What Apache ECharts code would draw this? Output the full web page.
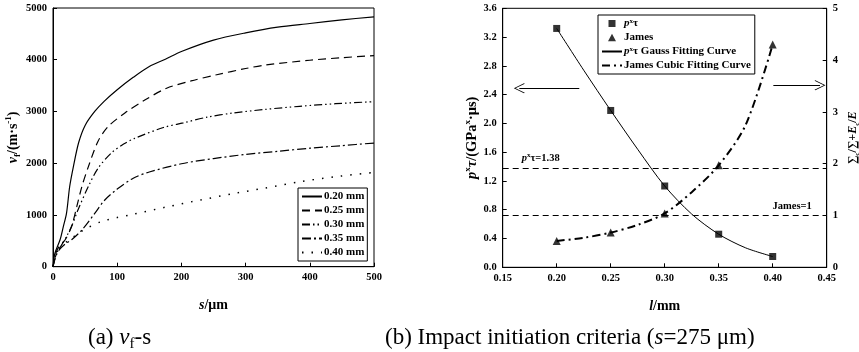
<!DOCTYPE html>
<html><head><meta charset="utf-8">
<script src="https://cdn.jsdelivr.net/npm/echarts@6/dist/echarts.min.js"></script>
<style>html,body{margin:0;padding:0;background:#fff}#c{width:859px;height:352px}</style>
</head><body><div id="c"></div>
<script>
// ---------- (a) vf - s ----------
const s020 = [0,3,11,16,21,26,32,40,50,65,80,100,125,150,175,200,250,300,350,400,450,500];
const v020 = [0,260,520,770,1030,1550,1950,2400,2730,3000,3200,3420,3660,3870,4010,4160,4380,4520,4630,4700,4770,4830];
const s025 = [0,5,10,19,29,37,45,55,70,86,112,143,177,215,255,300,332,400,450,500];
const v025 = [0,280,400,520,780,1160,1550,1930,2420,2710,2970,3220,3450,3590,3710,3830,3900,3990,4040,4080];
const s030 = [0,5,10,20,29,39,55,70,91,110,127,172,203,240,280,330,384,440,500];
const v030 = [0,250,350,560,780,1100,1550,1900,2200,2370,2480,2690,2780,2890,2970,3040,3100,3150,3190];
const s035 = [0,5,10,20,29,45,65,80,100,125,150,200,250,300,350,400,450,500];
const v035 = [0,220,330,450,520,710,1030,1280,1500,1710,1830,1990,2090,2170,2230,2290,2340,2390];
const s040 = [0,5,10,20,30,40,55,75,100,120,175,230,280,330,384,440,500];
const v040 = [0,250,350,470,560,650,760,870,950,1000,1150,1290,1410,1520,1640,1740,1820];
const curveNames = ['0.20 mm','0.25 mm','0.30 mm','0.35 mm','0.40 mm'];
const xTicksA = [0,100,200,300,400,500];
const yTicksA = [0,1000,2000,3000,4000,5000];

// ---------- (b) impact initiation criteria ----------
const lVals = [0.20,0.25,0.30,0.35,0.40];
const pTau = [3.32,2.18,1.13,0.46,0.15];
const james = [0.51,0.67,1.04,1.97,4.30];
const fitL = [0.20,0.225,0.25,0.275,0.30,0.325,0.35,0.375,0.40];
const gaussFit = [3.32,2.74,2.18,1.64,1.13,0.74,0.46,0.27,0.15];
const cubicFit = [0.51,0.57,0.67,0.82,1.04,1.45,1.97,2.75,4.30];
const pTauCrit = 1.38;
const jamesCrit = 1;

const FONT = 'Liberation Serif';
const pairs = (xs, ys) => xs.map((x, i) => [x, ys[i]]);

function richSet(size, lh) {
  lh = lh || size + 4;
  return {
    n: {fontFamily: FONT, fontWeight: 'bold', fontSize: size, lineHeight: lh, color: '#000'},
    i: {fontFamily: FONT, fontWeight: 'bold', fontStyle: 'italic', fontSize: size, lineHeight: lh, color: '#000'},
    sup: {fontFamily: FONT, fontWeight: 'bold', fontSize: Math.round(size * 0.62), lineHeight: size * 0.6, verticalAlign: 'top', color: '#000'},
    sub: {fontFamily: FONT, fontWeight: 'bold', fontSize: Math.round(size * 0.62), lineHeight: size * 0.6, verticalAlign: 'bottom', color: '#000'}
  };
}
const tickLabel = {fontFamily: FONT, fontWeight: 'bold', fontSize: 10.5, color: '#000'};
const axisLine = {show: true, lineStyle: {color: '#000', width: 1}};
const axisTick = {show: true, inside: true, length: 4, lineStyle: {color: '#000'}};

const lineStylesA = [
  {type: 'solid', width: 1.2},
  {type: [8, 5], width: 1.2},
  {type: [8, 3, 1.5, 3, 1.5, 3], width: 1.2},
  {type: [9, 3, 2, 3], width: 1.2},
  {type: [1.5, 8], width: 1.5}
];
const dataA = [pairs(s020, v020), pairs(s025, v025), pairs(s030, v030), pairs(s035, v035), pairs(s040, v040)];

const arrowPath = 'path://M0,0 L10,12 L9,13 L0,2 L-9,13 L-10,12 Z';
const sqIcon = 'path://M0,0 M10,10 M1.5,1.5 L8.5,1.5 L8.5,8.5 L1.5,8.5 Z';
const triIcon = 'path://M0,0 M10,10 M5,1.2 L9,8.8 L1,8.8 Z';

const seriesA = dataA.map((d, k) => ({
  name: curveNames[k], type: 'line', xAxisIndex: 0, yAxisIndex: 0,
  data: d, symbol: 'none', showSymbol: false, smooth: 0.3,
  lineStyle: Object.assign({color: '#000'}, lineStylesA[k]), itemStyle: {color: '#000'}, silent: true
}));

const legNames = {pt: '{i|p}{sup|x}{n|τ}', James: '{n|James}', ptFit: '{i|p}{sup|x}{n|τ Gauss Fitting Curve}', jFit: '{n|James Cubic Fitting Curve}'};
const hideSym = {opacity: 0};

const seriesB = [
  {name: 'pt', type: 'scatter', xAxisIndex: 1, yAxisIndex: 1, data: pairs(lVals, pTau), symbol: 'rect', symbolSize: 7, itemStyle: {color: '#000'}, z: 5},
  {name: 'James', type: 'scatter', xAxisIndex: 1, yAxisIndex: 2, data: pairs(lVals, james), symbol: 'triangle', symbolSize: 8, itemStyle: {color: '#000'}, z: 5},
  {name: 'ptFit', type: 'line', xAxisIndex: 1, yAxisIndex: 1, data: pairs(fitL, gaussFit), symbol: 'none', showSymbol: false, smooth: 0.3,
   lineStyle: {color: '#000', width: 1}, itemStyle: {color: '#000'},
   markLine: {silent: true, symbol: 'none', lineStyle: {color: '#000', type: [6, 4], width: 1},
     label: {show: true, position: 'insideStartTop', distance: [19, 2], formatter: '{i|p}{sup|x}{n|τ=1.38}', rich: richSet(10.5)},
     data: [{yAxis: pTauCrit}]}},
  {name: 'jFit', type: 'line', xAxisIndex: 1, yAxisIndex: 2, data: pairs(fitL, cubicFit), symbol: 'none', showSymbol: false, smooth: 0.3,
   lineStyle: {color: '#000', width: 2, type: [8, 4, 2, 4]}, itemStyle: {color: '#000'},
   markLine: {silent: true, symbol: 'none', lineStyle: {color: '#000', type: [6, 4], width: 1},
     label: {show: true, position: 'insideEndTop', distance: [15, 2], formatter: '{n|James=1}', rich: richSet(10.5)},
     data: [{yAxis: jamesCrit}]}},
  {name: 'arrows', type: 'line', xAxisIndex: 1, yAxisIndex: 1, data: [], silent: true,
   markLine: {silent: true, symbol: ['none', arrowPath], symbolSize: [10, 11], lineStyle: {color: '#000', type: 'solid', width: 1}, label: {show: false},
     data: [
       [{coord: [0.2209, 2.49]}, {coord: [0.1654, 2.49]}],
       [{coord: [0.4006, 2.53]}, {coord: [0.4438, 2.53]}]
     ]}}
];

const capRich = {
  r: {fontFamily: FONT, fontSize: 23, fontWeight: 'normal', color: '#000', lineHeight: 28},
  it: {fontFamily: FONT, fontSize: 23, fontWeight: 'normal', fontStyle: 'italic', color: '#000', lineHeight: 28},
  sb: {fontFamily: FONT, fontSize: 15, fontWeight: 'normal', color: '#000', verticalAlign: 'bottom', lineHeight: 20}
};

const chart = echarts.init(document.getElementById('c'), null, {renderer: 'canvas'});
chart.setOption({
  animation: false,
  backgroundColor: '#fff',
  title: [
    {text: '{r|(a) }{it|v}{sb|f}{r|-s}', left: 88, top: 324, padding: 0, textStyle: {fontWeight: 'normal', rich: capRich}},
    {text: '{r|(b) Impact initiation criteria (}{it|s}{r|=275 μm)}', left: 385, top: 324, padding: 0, textStyle: {fontWeight: 'normal', rich: capRich}}
  ],
  grid: [
    {left: 53, top: 8, width: 321, bottom: 85.3, show: true, borderColor: '#000', borderWidth: 1, backgroundColor: 'transparent', containLabel: false, outerBoundsMode: 'none'},
    {left: 502.7, top: 8.3, width: 324, bottom: 84.7, show: true, borderColor: '#000', borderWidth: 1, backgroundColor: 'transparent', containLabel: false, outerBoundsMode: 'none'}
  ],
  legend: [
    {data: curveNames.map(n => ({name: n, itemStyle: hideSym})), orient: 'vertical', left: 298, top: 188, itemWidth: 20, itemHeight: 10, itemGap: 3,
     padding: [3, 3, 3, 3], borderColor: '#000', borderWidth: 1, selectedMode: false,
     textStyle: {fontFamily: FONT, fontWeight: 'bold', fontSize: 11, lineHeight: 11, color: '#000', padding: [0, 0, 0, -3]}},
    {data: [{name: 'pt', icon: sqIcon}, {name: 'James', icon: triIcon}, {name: 'ptFit', itemStyle: hideSym}, {name: 'jFit', itemStyle: hideSym}],
     orient: 'vertical', left: 598, top: 15, itemWidth: 20, itemHeight: 10, itemGap: 3, symbolKeepAspect: true,
     padding: [3, 4, 3, 3], borderColor: '#000', borderWidth: 1, selectedMode: false,
     formatter: n => legNames[n],
     textStyle: {fontFamily: FONT, fontWeight: 'bold', fontSize: 11, color: '#000', padding: [0, 0, 0, -3], rich: richSet(11, 11)}}
  ],
  xAxis: [
    {gridIndex: 0, type: 'value', min: xTicksA[0], max: xTicksA[xTicksA.length - 1], interval: 100,
     axisLine: axisLine, axisTick: axisTick, splitLine: {show: false},
     axisLabel: Object.assign({margin: 5, formatter: v => String(v)}, tickLabel),
     name: '{i|s}{n|/μm}', nameLocation: 'middle', nameGap: 30, nameTextStyle: {rich: richSet(14)}},
    {gridIndex: 1, type: 'value', min: 0.15, max: 0.45, interval: 0.05,
     axisLine: axisLine, axisTick: axisTick, splitLine: {show: false},
     axisLabel: Object.assign({margin: 5, formatter: v => v.toFixed(2)}, tickLabel),
     name: '{i|l}{n|/mm}', nameLocation: 'middle', nameGap: 30, nameTextStyle: {rich: richSet(14)}}
  ],
  yAxis: [
    {gridIndex: 0, type: 'value', min: yTicksA[0], max: yTicksA[yTicksA.length - 1], interval: 1000,
     axisLine: axisLine, axisTick: axisTick, splitLine: {show: false},
     axisLabel: Object.assign({margin: 6, formatter: v => String(v)}, tickLabel),
     name: '{i|v}{sub|f}{n|/(m·s}{sup|-1}{n|)}', nameLocation: 'middle', nameGap: 29, nameRotate: 90,
     nameTextStyle: {rich: richSet(14)}},
    {gridIndex: 1, type: 'value', min: 0, max: 3.6, interval: 0.4,
     axisLine: axisLine, axisTick: axisTick, splitLine: {show: false},
     axisLabel: Object.assign({margin: 6, formatter: v => v.toFixed(1)}, tickLabel),
     name: '{i|p}{sup|x}{i|τ}{n|/(GPa}{sup|x}{n|·μs)}', nameLocation: 'middle', nameGap: 20, nameRotate: 90,
     nameTextStyle: {rich: richSet(14.5)}},
    {gridIndex: 1, type: 'value', position: 'right', min: 0, max: 5, interval: 1,
     axisLine: axisLine, axisTick: axisTick, splitLine: {show: false},
     axisLabel: Object.assign({margin: 6}, tickLabel),
     name: '{n|∑}{sub|c}{n|/∑+}{i|E}{sub|c}{n|/}{i|E}', nameLocation: 'middle', nameGap: 18, nameRotate: 90,
     nameTextStyle: {rich: richSet(12)}}
  ],
  series: seriesA.concat(seriesB)
});
</script></body></html>
